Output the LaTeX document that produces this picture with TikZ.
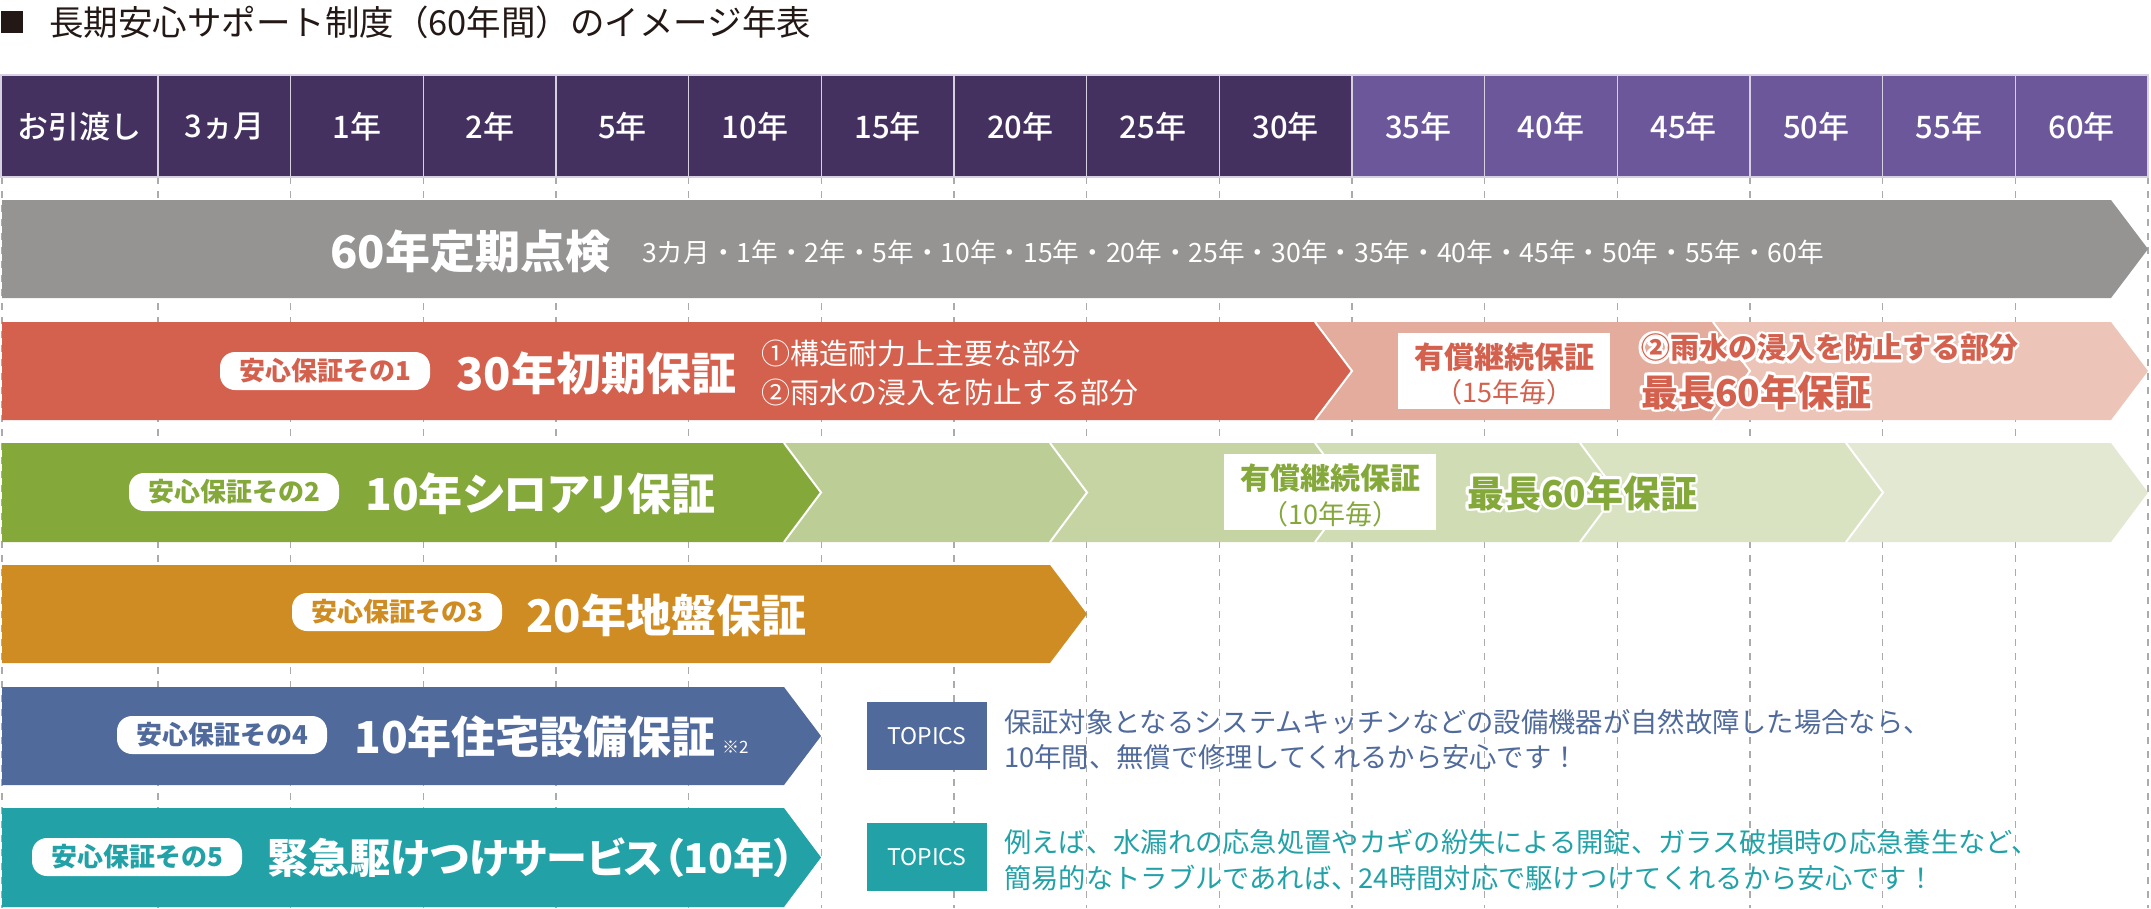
\documentclass[tikz,border=0pt]{standalone}
\usepackage{fontspec}
\setmainfont{Noto Sans CJK JP}
\newfontfamily\paltfont{Noto Sans CJK JP}[RawFeature=+palt]
\IfFontExistsTF{Noto Sans CJK JP Medium}{\newfontfamily\medfont{Noto Sans CJK JP Medium}}{\newfontfamily\medfont{Noto Sans CJK JP}}
\usetikzlibrary{calc}
\definecolor{hdrdark}{HTML}{44315F}
\definecolor{hdrlight}{HTML}{6C579B}
\definecolor{hdrline}{HTML}{D6D0E0}
\definecolor{gbar}{HTML}{959492}
\definecolor{redA}{HTML}{D4614E}
\definecolor{redB}{HTML}{E4AC9D}
\definecolor{redC}{HTML}{EDC4B8}
\definecolor{grnA}{HTML}{84A83A}
\definecolor{grnB}{HTML}{BCCD95}
\definecolor{grnC}{HTML}{C6D4A3}
\definecolor{grnD}{HTML}{D0DCB3}
\definecolor{grnE}{HTML}{D9E3C2}
\definecolor{grnF}{HTML}{E2E8D1}
\definecolor{orng}{HTML}{CE8C22}
\definecolor{blu}{HTML}{506A9B}
\definecolor{tealc}{HTML}{22A2A7}
\definecolor{ttl}{HTML}{231815}
\definecolor{dashc}{HTML}{ABABAB}
\newcommand{\fsz}[1]{\fontsize{#1}{#1}\selectfont}
\newcommand{\chevA}[5]{% colour, start, tip, top, bottom
  \fill[#1] (#2,#4) -- ({#3-37},#4) -- (#3,{(#4+#5)/2}) -- ({#3-37},#5) -- (#2,#5) -- cycle;}
\newcommand{\chevB}[5]{% colour, previous tip, tip, top, bottom
  \fill[#1] ({#2-37},#4) -- ({#3-37},#4) -- (#3,{(#4+#5)/2}) -- ({#3-37},#5) -- ({#2-37},#5) -- (#2,{(#4+#5)/2}) -- cycle;
  \draw[white, line width=2] ({#2-37},#4) -- (#2,{(#4+#5)/2}) -- ({#2-37},#5);}
\newcommand{\outl}[6]{% name, x, y, colour, size, text
  \foreach \a in {0,30,...,330}{\node[txt, text=white, font=\fsz{#5}\bfseries] at ({#2+2.6*cos(\a)},{#3+2.6*sin(\a)}) {#6};}
  \node[txt, text=#4, font=\fsz{#5}\bfseries] (#1) at (#2,#3) {#6};}
\tikzset{
  txt/.style={inner sep=0pt, anchor=west},
  hdrtext/.style={inner sep=0pt, text=white, font=\medfont\fsz{31}},
  bartitle/.style={txt, text=white, font=\paltfont\fsz{45}\bfseries},
  pill/.style={fill=white, rounded corners=15, minimum width=210, minimum height=38, inner sep=0pt, font=\fsz{26}\bfseries},
  dashline/.style={draw=dashc, line width=1.5, dash pattern=on 7 off 7},
  topicsbox/.style={minimum width=120, minimum height=68, inner sep=0pt, text=white, font=\fsz{23}},
  wbox/.style={fill=white, minimum width=212, minimum height=76, inner sep=0pt},
}
\begin{document}
\begin{tikzpicture}[x=1pt, y=-1pt]
\useasboundingbox (0,0) rectangle (2151,908);
% title
\fill[ttl] (1,11) rectangle (23,33);
\node[txt, text=ttl, font=\fsz{34.5}] (title) at (49,22) {長期安心サポート制度（60年間）のイメージ年表};
% dashed guides
\draw[dashline] (2,177) -- (2,908);
\foreach \k in {1,...,16}{
  \pgfmathsetmacro\xx{158+(\k-1)*132.67}
  \draw[dashline] (\xx,177) -- (\xx,908);
}
% header
\foreach \lab [count=\i from 0] in {お引渡し,3ヵ月,1年,2年,5年,10年,15年,20年,25年,30年,35年,40年,45年,50年,55年,60年}{
  \ifnum\i=0 \def\xl{1}\def\xr{158}\else
    \pgfmathsetmacro\xl{158+(\i-1)*132.67}\pgfmathsetmacro\xr{\xl+132.67}\fi
  \ifnum\i<10 \def\cc{hdrdark}\else\def\cc{hdrlight}\fi
  \filldraw[fill=\cc, draw=hdrline, line width=1.5] (\xl,75) rectangle (\xr,177);
  \node[hdrtext] (h\i) at ({(\xl+\xr)/2},127) {\lab};
}
% row 1 gray
\chevA{gbar}{2}{2148}{200}{298}
\node[bartitle] (r1t) at (330,251) {60年定期点検};
\node[txt, text=white, font=\fsz{26.6}] (r1s) at (642,252) {3カ月・1年・2年・5年・10年・15年・20年・25年・30年・35年・40年・45年・50年・55年・60年};
% row 2 red
\chevA{redA}{2}{1352}{322}{420}
\chevB{redB}{1352}{1750}{322}{420}
\chevB{redC}{1750}{2148}{322}{420}
\node[pill, text=redA] (p1) at (325,371) {安心保証その1};
\node[bartitle] (r2t) at (456,373) {30年初期保証};
\node[txt, text=white, font=\fsz{29}] (r2a) at (761,353) {①構造耐力上主要な部分};
\node[txt, text=white, font=\fsz{29}] (r2b) at (761,392) {②雨水の浸入を防止する部分};
\node[wbox] (w1) at (1504,371) {};
\node[text=redA, font=\fsz{30}\bfseries, inner sep=0pt] (w1a) at (1504,357) {有償継続保証};
\node[text=redA, font=\fsz{27}, inner sep=0pt] (w1b) at (1504,392) {（15年毎）};
\outl{r2c}{1641}{348}{redA}{29}{②雨水の浸入を防止する部分}
\outl{r2d}{1641}{392}{redA}{37}{最長60年保証}
% row 3 green
\chevA{grnA}{2}{821}{443}{542}
\chevB{grnB}{821}{1087}{443}{542}
\chevB{grnC}{1087}{1352}{443}{542}
\chevB{grnD}{1352}{1617}{443}{542}
\chevB{grnE}{1617}{1883}{443}{542}
\chevB{grnF}{1883}{2148}{443}{542}
\node[pill, text=grnA] (p2) at (234,492) {安心保証その2};
\node[bartitle, font=\paltfont\fsz{44}\bfseries] (r3t) at (365,494) {10年シロアリ保証};
\node[wbox] (w2) at (1330,492) {};
\node[text=grnA, font=\fsz{30}\bfseries, inner sep=0pt] (w2a) at (1330,478) {有償継続保証};
\node[text=grnA, font=\fsz{27}, inner sep=0pt] (w2b) at (1330,514) {（10年毎）};
\outl{r3c}{1467}{493}{grnA}{37}{最長60年保証}
% row 4 orange
\chevA{orng}{2}{1087}{565}{663}
\node[pill, text=orng] (p3) at (397,612) {安心保証その3};
\node[bartitle] (r4t) at (526,615) {20年地盤保証};
% row 5 blue
\chevA{blu}{2}{821}{687}{785}
\node[pill, text=blu] (p4) at (222,735) {安心保証その4};
\node[bartitle, font=\paltfont\fsz{44}\bfseries] (r5t) at (354,737) {10年住宅設備保証};
\node[anchor=base west, inner sep=0pt, text=white, font=\fsz{17}] (r5n) at ($(r5t.base east)+(6,0)$) {※2};
\node[topicsbox, fill=blu] (t1) at (927,736) {TOPICS};
\node[txt, text=blu, font=\fsz{27.3}] (t1a) at (1004,722) {保証対象となるシステムキッチンなどの設備機器が自然故障した場合なら、};
\node[txt, text=blu, font=\fsz{27.3}] (t1b) at (1004,757) {10年間、無償で修理してくれるから安心です！};
% row 6 teal
\chevA{tealc}{2}{821}{808}{907}
\node[pill, text=tealc] (p5) at (137,857) {安心保証その5};
\node[bartitle, font=\paltfont\fsz{41}\bfseries] (r6t) at (267,858) {緊急駆けつけサービス（10年）};
\node[topicsbox, fill=tealc] (t2) at (927,857) {TOPICS};
\node[txt, text=tealc, font=\fsz{27.3}] (t2a) at (1004,842) {例えば、水漏れの応急処置やカギの紛失による開錠、ガラス破損時の応急養生など、};
\node[txt, text=tealc, font=\fsz{27.3}] (t2b) at (1004,878) {簡易的なトラブルであれば、24時間対応で駆けつけてくれるから安心です！};
\end{tikzpicture}
\end{document}
